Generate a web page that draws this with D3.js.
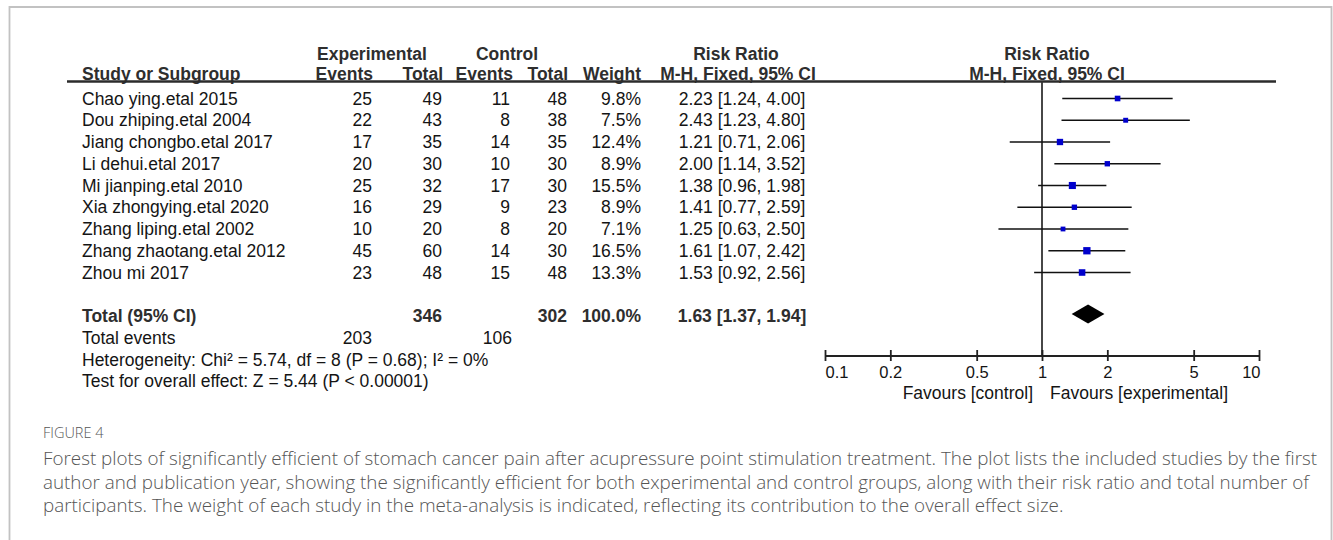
<!DOCTYPE html>
<html>
<head>
<meta charset="utf-8">
<script src="https://cdn.jsdelivr.net/npm/d3@7"></script>
<style>
  html, body { margin: 0; padding: 0; background: #fff; }
  svg { display: block; }
  .tbl { font-family: "Liberation Sans", Arial, sans-serif; font-size: 17.5px; fill: #141414; }
  .hdr { font-weight: bold; fill: #2e2e2e; }
  .cap { font-family: "Open Sans", "Lato", sans-serif; font-weight: 300; fill: #555; }
</style>
</head>
<body>
<svg id="chart" width="1333" height="540"></svg>
<script>
// Study-level data
const studies = [
  "Chao ying.etal 2015", "Dou zhiping.etal 2004", "Jiang chongbo.etal 2017",
  "Li dehui.etal 2017", "Mi jianping.etal 2010", "Xia zhongying.etal 2020",
  "Zhang liping.etal 2002", "Zhang zhaotang.etal 2012", "Zhou mi 2017"
];
const expEvents  = [25, 22, 17, 20, 25, 16, 10, 45, 23];
const expTotal   = [49, 43, 35, 30, 32, 29, 20, 60, 48];
const ctrlEvents = [11, 8, 14, 10, 17, 9, 8, 14, 15];
const ctrlTotal  = [48, 38, 35, 30, 30, 23, 20, 30, 48];
const weights    = [9.8, 7.5, 12.4, 8.9, 15.5, 8.9, 7.1, 16.5, 13.3];
const riskRatio  = [2.23, 2.43, 1.21, 2.00, 1.38, 1.41, 1.25, 1.61, 1.53];
const ciLower    = [1.24, 1.23, 0.71, 1.14, 0.96, 0.77, 0.63, 1.07, 0.92];
const ciUpper    = [4.00, 4.80, 2.06, 3.52, 1.98, 2.59, 2.50, 2.42, 2.56];

// Pooled result
const pooled = { rr: 1.63, lower: 1.37, upper: 1.94, weight: 100.0 };
const totals = { expTotal: 346, ctrlTotal: 302, expEvents: 203, ctrlEvents: 106 };
const heterogeneityText = "Heterogeneity: Chi\u00B2 = 5.74, df = 8 (P = 0.68); I\u00B2 = 0%";
const overallText = "Test for overall effect: Z = 5.44 (P < 0.00001)";

// Axis
const axisTicks = [0.1, 0.2, 0.5, 1, 2, 5, 10];
const favourLeft = "Favours [control]";
const favourRight = "Favours [experimental]";

// Caption
const figLabel = "FIGURE 4";
const captionLines = [
  "Forest plots of significantly efficient of stomach cancer pain after acupressure point stimulation treatment. The plot lists the included studies by the first",
  "author and publication year, showing the significantly efficient for both experimental and control groups, along with their risk ratio and total number of",
  "participants. The weight of each study in the meta-analysis is indicated, reflecting its contribution to the overall effect size."
];

const svg = d3.select("#chart");

// Figure frame (top, left, right)
svg.append("path")
  .attr("d", "M9.5,540 V7 H1331.5 V540")
  .attr("fill", "none")
  .attr("stroke", "#c2c2c2")
  .attr("stroke-width", 1.8);

const fmt2 = d3.format(".2f");
const fmtW = d => d3.format(".1f")(d) + "%";
const ciText = (r, l, u) => `${fmt2(r)} [${fmt2(l)}, ${fmt2(u)}]`;

// Column anchors
const col = {
  study: 82, expEv: 372, expTot: 442, ctrlEv: 510, ctrlTot: 567,
  weight: 641, ci: 742, plotC: 1047
};

// Row layout: nine studies, one blank line, then the summary lines
const yRow = d3.scaleLinear().domain([0, 10]).range([98.5, 316]);
const yHdr1 = 54, yHdr2 = 74, yRule = 81.5;
const yTotal = yRow(10), yTotEv = yRow(11), yHet = yRow(12), yTest = yRow(13);

const tbl = svg.append("g").attr("class", "tbl");
function txt(x, y, s, anchor, bold) {
  return tbl.append("text")
    .attr("x", x).attr("y", y).attr("dy", "0.35em")
    .attr("text-anchor", anchor || "start")
    .attr("font-weight", bold ? "bold" : null)
    .attr("class", bold === "h" ? "hdr" : null)
    .text(s);
}

// Header row 1
txt(372, yHdr1, "Experimental", "middle", "h");
txt(507, yHdr1, "Control", "middle", "h");
txt(736, yHdr1, "Risk Ratio", "middle", "h");
txt(col.plotC, yHdr1, "Risk Ratio", "middle", "h");
// Header row 2
txt(col.study, yHdr2, "Study or Subgroup", "start", "h");
txt(col.expEv + 1, yHdr2, "Events", "end", "h");
txt(col.expTot + 1, yHdr2, "Total", "end", "h");
txt(col.ctrlEv + 3, yHdr2, "Events", "end", "h");
txt(col.ctrlTot + 1, yHdr2, "Total", "end", "h");
txt(col.weight, yHdr2, "Weight", "end", "h");
txt(738, yHdr2, "M-H, Fixed, 95% CI", "middle", "h");
txt(col.plotC, yHdr2, "M-H, Fixed, 95% CI", "middle", "h");

// Header rule
svg.append("line")
  .attr("x1", 67).attr("x2", 1276).attr("y1", yRule).attr("y2", yRule)
  .attr("stroke", "#2b2b2b").attr("stroke-width", 2.3);

// Study rows
studies.forEach((s, i) => {
  const y = yRow(i);
  txt(col.study, y, s);
  txt(col.expEv, y, expEvents[i], "end");
  txt(col.expTot, y, expTotal[i], "end");
  txt(col.ctrlEv, y, ctrlEvents[i], "end");
  txt(col.ctrlTot, y, ctrlTotal[i], "end");
  txt(col.weight, y, fmtW(weights[i]), "end");
  txt(col.ci, y, ciText(riskRatio[i], ciLower[i], ciUpper[i]), "middle");
});

// Totals
txt(col.study, yTotal, "Total (95% CI)", "start", "h");
txt(col.expTot, yTotal, totals.expTotal, "end", "h");
txt(col.ctrlTot, yTotal, totals.ctrlTotal, "end", "h");
txt(col.weight, yTotal, fmtW(pooled.weight), "end", "h");
txt(col.ci, yTotal, ciText(pooled.rr, pooled.lower, pooled.upper), "middle", "h");
txt(col.study, yTotEv, "Total events");
txt(col.expEv, yTotEv, totals.expEvents, "end");
txt(col.ctrlEv + 2, yTotEv, totals.ctrlEvents, "end");
txt(col.study, yHet, heterogeneityText);
txt(col.study, yTest, overallText);

// Forest plot
const x = d3.scaleLog().domain([0.1, 10]).range([825, 1259]);
const yAxis = 355.5;
const plot = svg.append("g");

// Line of no effect
plot.append("line")
  .attr("x1", x(1)).attr("x2", x(1)).attr("y1", yRule).attr("y2", yAxis)
  .attr("stroke", "#333").attr("stroke-width", 1.8);

// Confidence intervals
plot.selectAll("line.ci").data(studies).join("line")
  .attr("class", "ci")
  .attr("x1", (d, i) => x(ciLower[i])).attr("x2", (d, i) => x(ciUpper[i]))
  .attr("y1", (d, i) => yRow(i)).attr("y2", (d, i) => yRow(i))
  .attr("stroke", "#111").attr("stroke-width", 1.5);

// Weighted point estimates (box area proportional to weight)
const boxSide = w => 1.8 * Math.sqrt(w);
plot.selectAll("rect.pt").data(studies).join("rect")
  .attr("class", "pt")
  .attr("x", (d, i) => x(riskRatio[i]) - boxSide(weights[i]) / 2)
  .attr("y", (d, i) => yRow(i) - boxSide(weights[i]) / 2)
  .attr("width", (d, i) => boxSide(weights[i]))
  .attr("height", (d, i) => boxSide(weights[i]))
  .attr("fill", "#0000cc");

// Pooled diamond
const dh = 9.5, yd = yTotal - 2;
plot.append("path")
  .attr("d", `M${x(pooled.lower)},${yd} L${x(pooled.rr)},${yd - dh} L${x(pooled.upper)},${yd} L${x(pooled.rr)},${yd + dh} Z`)
  .attr("fill", "#000");

// Axis: end labels sit inside the axis span
const axis = d3.axisBottom(x).tickValues(axisTicks).tickFormat(d => String(d)).tickSize(0).tickPadding(0);
const ag = plot.append("g").attr("transform", `translate(0,${yAxis})`).call(axis);
ag.select(".domain").attr("stroke", "#222").attr("stroke-width", 1.8);
ag.selectAll(".tick line").remove();
ag.selectAll(".tick").append("line")
  .attr("y1", -5.5).attr("y2", 5.5)
  .attr("stroke", "#222").attr("stroke-width", 1.8);
const last = axisTicks.length - 1;
ag.selectAll(".tick text")
  .attr("y", 16.5).attr("dy", "0.35em")
  .attr("font-family", "Liberation Sans, Arial, sans-serif")
  .attr("font-size", 16.5).attr("fill", "#141414")
  .attr("text-anchor", (d, i) => i === 0 ? "start" : i === last ? "end" : "middle")
  .attr("x", (d, i) => i === 0 ? 0 : i === last ? 1 : 0);

plot.append("text").attr("class", "tbl")
  .attr("x", x(1) - 9).attr("y", 393).attr("dy", "0.35em")
  .attr("text-anchor", "end").attr("fill", "#333")
  .text(favourLeft);
plot.append("text").attr("class", "tbl")
  .attr("x", x(1) + 8).attr("y", 393).attr("dy", "0.35em")
  .attr("text-anchor", "start").attr("fill", "#333")
  .text(favourRight);

// Caption
const cap = svg.append("g");
cap.append("text").attr("class", "cap")
  .attr("x", 43).attr("y", 433).attr("dy", "0.35em")
  .attr("font-size", 14.5).attr("fill", "#666")
  .text(figLabel);
const capSize = 18;
const capNodes = captionLines.map((s, i) =>
  cap.append("text").attr("class", "cap")
    .attr("x", 43).attr("y", 458.5 + i * 23.5).attr("dy", "0.35em")
    .attr("font-size", capSize)
    .text(s)
);
// Fit the first caption line to the text block width
const w0 = capNodes[0].node().getComputedTextLength();
const fitted = capSize * 1275 / w0;
capNodes.forEach(n => n.attr("font-size", fitted));
</script>
</body>
</html>
